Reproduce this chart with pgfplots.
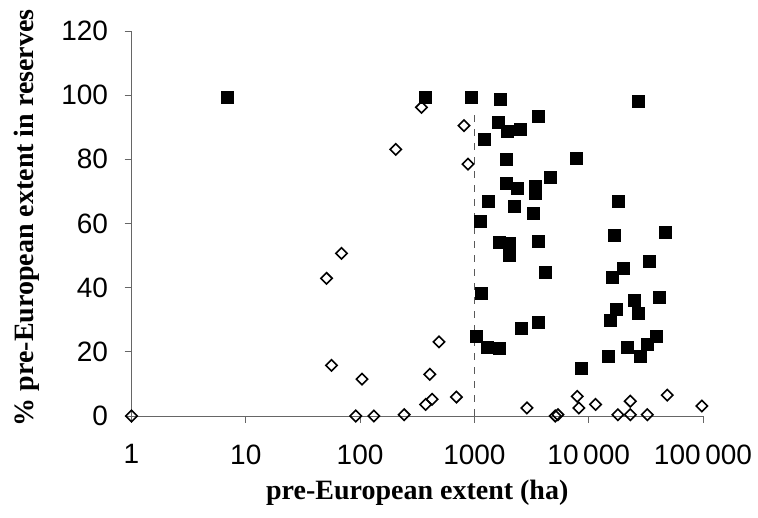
\documentclass[border=0pt]{standalone}
\usepackage{fontspec}
\setmainfont{Liberation Serif}
\setsansfont{Liberation Sans}
\usepackage{pgfplots}
\pgfplotsset{compat=1.18}

\begin{document}
\begin{tikzpicture}
  % fixed page size, 1pt = 1px of the reference
  \path (-131.5pt,-102pt) rectangle (626.5pt,416pt);
  \begin{axis}[
      scale only axis,
      width=571.5pt, height=385pt,
      xmode=log,
      xmin=1, xmax=100000,
      ymin=0, ymax=120,
      axis x line=bottom, axis y line=left,
      axis line style={-, gray!80!black, line width=0.8pt},
      xtick={1,10,100,1000,10000,100000},
      xticklabels={1,10,100,1000,10\,000,100\,000},
      ytick={0,20,...,120},
      xminorticks=false,
      tick align=outside,
      major tick length=7pt,
      tick style={gray!80!black, line width=0.8pt},
      ticklabel style={font=\sffamily\fontsize{28}{32}\selectfont},
      xticklabel style={yshift=-18pt},
      yticklabel style={xshift=-13pt},
      /pgf/number format/assume math mode=true,
      label style={font=\rmfamily\bfseries\fontsize{28}{32}\selectfont},
      xlabel={pre-European extent (ha)},
      ylabel={\% pre-European extent in reserves},
      xlabel style={at={(axis description cs:0.5,-0.2)}, anchor=center},
      ylabel style={at={(axis description cs:-0.183,0.515)}, anchor=center},
      clip=false,
    ]
    % dashed line at 1000 ha
    \addplot[gray!70!black, line width=1pt, dash pattern=on 7pt off 7pt]
      coordinates {(1000,0) (1000,95)};

    % filled squares
    \addplot[only marks, mark=square*, mark size=6pt, mark options={black, fill=black}]
      coordinates {
      (6.9,99.3) (368,99.3) (947,99.3) (1690,98.7) (3600,93.5)
      (1630,91.7) (1945,88.9) (2520,89.5) (1210,86.2) (1880,80.0)
      (7800,80.5) (1880,72.5) (2360,70.9) (3370,71.7) (3370,69.4)
      (4650,74.3) (1310,67.1) (2250,65.4) (3260,63.1) (17990,67.0)
      (1135,60.7) (16600,56.4) (1660,54.3) (2035,53.8) (3600,54.6)
      (2010,50.1) (4200,44.9) (1150,38.4) (3600,29.3) (2580,27.3)
      (1040,24.9) (1300,21.5) (1660,21.0) (8600,14.8) (14900,18.7)
      (20200,46.2) (33600,48.3) (16100,43.4) (41700,37.1) (24800,36.1)
      (17400,33.3) (26900,32.1) (15500,29.9) (39000,24.9) (32300,22.3)
      (21600,21.5) (28200,18.7) (26900,98.0) (46700,57.4)
      };

    % open diamonds
    \addplot[only marks, mark=square, mark size=4pt,
      mark options={rotate=45, black, fill=white, line width=1.6pt}]
      coordinates {
      (1,0) (68.8,50.7) (50.9,42.9) (56.2,15.8) (104,11.5)
      (91.6,0) (132,0) (243,0.4) (490,23.1) (407,13.0)
      (375,3.6) (426,5.2) (696,5.9) (344,96.2) (205,83.1)
      (811,90.5) (879,78.5) (2884,2.5) (5100,0) (5380,0.4)
      (7940,6.1) (8210,2.5) (11480,3.6) (23100,4.6) (17990,0.4)
      (23100,0.4) (32540,0.4) (48660,6.5) (97700,3.1)
      };
  \end{axis}
\end{tikzpicture}
\end{document}
